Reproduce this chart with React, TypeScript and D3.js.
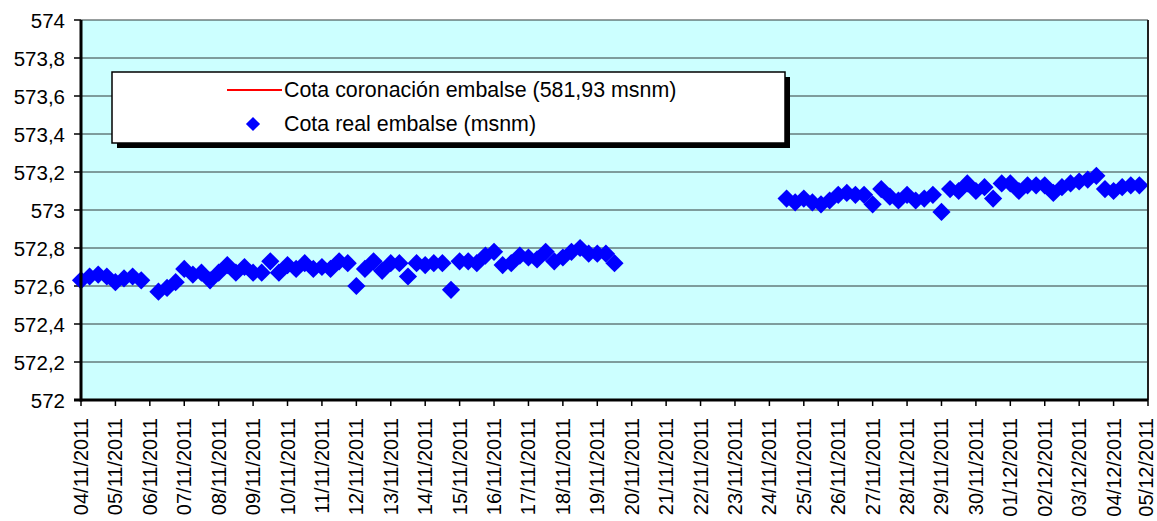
import { useMemo } from "react";
import * as d3 from "d3";

const WIDTH = 1157;
const HEIGHT = 521;
const PLOT = { left: 81, right: 1148, top: 20, bottom: 400 };

// one label per day on the x axis
const dayLabels = [
    "04/11/2011", "05/11/2011", "06/11/2011", "07/11/2011", "08/11/2011", "09/11/2011",
    "10/11/2011", "11/11/2011", "12/11/2011", "13/11/2011", "14/11/2011", "15/11/2011",
    "16/11/2011", "17/11/2011", "18/11/2011", "19/11/2011", "20/11/2011", "21/11/2011",
    "22/11/2011", "23/11/2011", "24/11/2011", "25/11/2011", "26/11/2011", "27/11/2011",
    "28/11/2011", "29/11/2011", "30/11/2011", "01/12/2011", "02/12/2011", "03/12/2011",
    "04/12/2011", "05/12/2011",
];

// readings taken at 00h, 06h, 12h, 18h of each day (null = no reading)
const readingHours = [0, 6, 12, 18];
const cotaReal: (number | null)[][] = [
    [572.63, 572.65, 572.66, 572.65],
    [572.62, 572.64, 572.65, 572.63],
    [null, 572.57, 572.59, 572.62],
    [572.69, 572.66, 572.67, 572.63],
    [572.67, 572.71, 572.67, 572.7],
    [572.67, 572.67, 572.73, 572.67],
    [572.71, 572.69, 572.72, 572.69],
    [572.7, 572.69, 572.73, 572.72],
    [572.6, 572.69, 572.73, 572.68],
    [572.72, 572.72, 572.65, 572.72],
    [572.71, 572.72, 572.72, 572.58],
    [572.73, 572.73, 572.72, 572.76],
    [572.78, 572.71, 572.72, 572.76],
    [572.75, 572.74, 572.78, 572.73],
    [572.75, 572.78, 572.8, 572.77],
    [572.77, 572.77, 572.72, null],
    [null, null, null, null],
    [null, null, null, null],
    [null, null, null, null],
    [null, null, null, null],
    [null, null, 573.06, 573.04],
    [573.06, 573.04, 573.03, 573.05],
    [573.08, 573.09, 573.08, 573.08],
    [573.03, 573.11, 573.07, 573.05],
    [573.08, 573.05, 573.06, 573.08],
    [572.99, 573.11, 573.1, 573.14],
    [573.1, 573.12, 573.06, 573.14],
    [573.14, 573.1, 573.13, 573.13],
    [573.13, 573.09, 573.12, 573.14],
    [573.15, 573.16, 573.18, 573.11],
    [573.1, 573.12, 573.13, 573.13],
];

const yTicks = [572, 572.2, 572.4, 572.6, 572.8, 573, 573.2, 573.4, 573.6, 573.8, 574];

const legendItems = ["Cota coronación embalse (581,93 msnm)", "Cota real embalse (msnm)"];

const FONT = "'Liberation Sans', Arial, sans-serif";
const parseDay = d3.timeParse("%d/%m/%Y");
const fmtY = d3.formatLocale({ decimal: ",", thousands: ".", grouping: [3], currency: ["", ""] }).format("~f");

export default function App() {
    const days = useMemo(() => dayLabels.map((d) => parseDay(d) as Date), []);

    const xScale = useMemo(
        () => d3.scaleTime().domain([days[0], days[days.length - 1]]).range([PLOT.left, PLOT.right]),
        [days]
    );
    const yScale = d3.scaleLinear().domain([572, 574]).range([PLOT.bottom, PLOT.top]);

    const points = useMemo(() => {
        const out: { t: Date; v: number }[] = [];
        cotaReal.forEach((row, i) => {
            row.forEach((v, j) => {
                if (v === null) return;
                out.push({ t: d3.timeHour.offset(days[i], readingHours[j]), v });
            });
        });
        return out;
    }, [days]);

    const diamond = d3.symbol(d3.symbolSquare, 165)() as string;
    const smallDiamond = d3.symbol(d3.symbolSquare, 100)() as string;

    const grid = yTicks.map((v, i) => (
        <g key={i}>
            <line x1={PLOT.left} x2={PLOT.right} y1={yScale(v)} y2={yScale(v)} stroke="#303a3a" strokeWidth={1} />
            <line x1={PLOT.left - 7} x2={PLOT.left} y1={yScale(v)} y2={yScale(v)} stroke="#000" strokeWidth={1.5} />
            <text
                x={65}
                y={yScale(v)}
                textAnchor="end"
                dominantBaseline="central"
                fontSize={20.5}
                fontFamily={FONT}
                fill="#000"
            >
                {fmtY(v)}
            </text>
        </g>
    ));

    const xAxis = days.map((d, i) => (
        <g key={i}>
            <line x1={xScale(d)} x2={xScale(d)} y1={PLOT.bottom} y2={PLOT.bottom + 6} stroke="#000" strokeWidth={1.5} />
            <text
                transform={`translate(${Math.min(xScale(d), 1146)},${PLOT.bottom + 18}) rotate(-90)`}
                textAnchor="end"
                dominantBaseline="central"
                fontSize={20}
                fontFamily={FONT}
                fill="#000"
            >
                {dayLabels[i]}
            </text>
        </g>
    ));

    const legend = { x: 112, y: 72, w: 673, h: 71 };

    return (
        <svg width={WIDTH} height={HEIGHT} style={{ position: "absolute", left: 0, top: 0, background: "#fff" }}>
            <rect
                x={PLOT.left}
                y={PLOT.top}
                width={PLOT.right - PLOT.left}
                height={PLOT.bottom - PLOT.top}
                fill="#ccffff"
            />
            {grid}
            {points.map((p, i) => (
                <path
                    key={i}
                    d={diamond}
                    transform={`translate(${xScale(p.t)},${yScale(p.v)}) rotate(45)`}
                    fill="#0000ff"
                />
            ))}
            <line x1={PLOT.right} x2={PLOT.right} y1={PLOT.top} y2={PLOT.bottom} stroke="#202020" strokeWidth={2} />
            <line x1={PLOT.left} x2={PLOT.left} y1={PLOT.top} y2={PLOT.bottom + 1.5} stroke="#000" strokeWidth={3} />
            <line x1={PLOT.left - 7} x2={PLOT.right} y1={PLOT.bottom} y2={PLOT.bottom} stroke="#000" strokeWidth={3} />
            {xAxis}

            <g>
                <rect x={legend.x + 5} y={legend.y + 5} width={legend.w} height={legend.h} fill="#000" />
                <rect x={legend.x} y={legend.y} width={legend.w} height={legend.h} fill="#fff" stroke="#000" strokeWidth={1.5} />
                <line x1={227} x2={282} y1={90} y2={90} stroke="#ff0000" strokeWidth={2} />
                <text x={284} y={90} dominantBaseline="central" fontSize={21.4} fontFamily={FONT} fill="#000">
                    {legendItems[0]}
                </text>
                <path d={smallDiamond} transform="translate(253,124) rotate(45)" fill="#0000ff" />
                <text x={284} y={124} dominantBaseline="central" fontSize={21.4} fontFamily={FONT} fill="#000">
                    {legendItems[1]}
                </text>
            </g>
        </svg>
    );
}
